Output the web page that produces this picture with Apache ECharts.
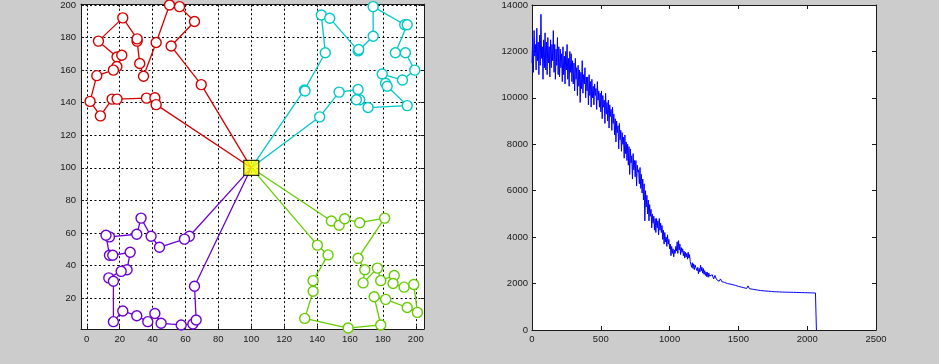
<!DOCTYPE html>
<html><head><meta charset="utf-8">
<script src="https://cdn.jsdelivr.net/npm/echarts@6/dist/echarts.min.js"></script>
<style>html,body{margin:0;padding:0;background:#cccccc;overflow:hidden}#c{width:939px;height:364px}</style>
</head><body><div id="c"></div>
<script>
// ---------- data ----------
const depot = [100, 100];
const redRoute = [[69.6,151.1],[51.3,174.8],[65.5,189.9],[56.4,199.0],[50.3,200.0],[42.2,177.0],[34.5,156.2],[32.2,164.1],[30.6,177.8],[30.6,179.2],[21.9,192.1],[7.1,177.8],[18.4,168.1],[21.3,169.1],[18.3,162.2],[16.2,160.0],[6.1,156.6],[2.0,140.8],[8.3,131.9],[15.4,142.2],[18.4,142.2],[36.3,142.8],[41.4,143.0],[42.2,138.8]];
const cyanRoute = [[132.3,147.8],[132.7,147.2],[145.0,170.7],[142.6,193.9],[147.7,191.9],[165.0,171.8],[165.3,172.7],[174.1,180.8],[174.1,199.0],[193.3,187.9],[194.8,187.9],[187.6,170.7],[193.7,170.7],[199.4,160.0],[191.9,153.9],[179.6,157.6],[181.6,151.9],[182.6,150.1],[194.8,138.2],[171.0,137.0],[165.9,141.8],[163.9,141.8],[164.9,148.1],[153.4,146.5],[141.6,131.3]];
const greenRoute = [[148.7,67.3],[153.4,64.7],[156.8,68.7],[165.9,66.3],[181.1,69.1],[164.9,44.5],[169.0,37.4],[168.0,29.3],[176.7,38.4],[178.7,30.7],[186.9,33.9],[186.2,28.9],[192.9,26.7],[198.8,28.3],[201.0,11.2],[194.8,14.2],[181.7,19.2],[174.7,20.8],[178.7,3.5],[158.9,1.6],[132.5,7.5],[137.6,24.2],[137.6,30.7],[146.7,46.5],[140.2,52.5]];
const purpleRoute = [[62.4,58.0],[59.4,56.2],[44.2,51.2],[39.1,58.0],[33.0,69.1],[30.4,59.2],[13.8,57.6],[11.7,58.6],[13.8,46.3],[15.8,46.3],[26.4,48.1],[24.5,37.4],[20.9,36.4],[13.4,32.4],[16.2,30.3],[16.2,5.5],[21.9,12.1],[30.4,9.1],[37.1,5.5],[41.4,10.5],[45.2,4.5],[57.4,3.5],[64.5,4.1],[66.5,6.5],[65.5,27.3]];

const leftXTicks = [0,20,40,60,80,100,120,140,160,180,200];
const leftYTicks = [20,40,60,80,100,120,140,160,180,200];

// convergence curve: noisy part read every 5 iterations (0..1295)
const noisyStep = 5;
const noisyValues = [
11500,12600,11100,12900,11800,12300,11200,13000,11600,12400,
11000,12700,11400,13600,11700,12200,10800,12500,11300,12800,
11200,12400,11000,12600,11500,12200,10900,12500,11300,12300,
11600,12900,11100,12300,10800,12100,11400,12600,11000,12200,
10900,12100,11300,11900,10700,12200,11000,11800,10600,12000,
11200,12300,10800,11700,10500,12000,11100,11900,10700,11600,
10600,11500,10300,11700,10800,11300,10100,11400,10500,11200,
9800,11100,10400,11600,10200,11000,10600,11300,10000,10900,
10300,10900,9700,11000,10100,10700,9600,10800,10000,10500,
9700,10600,10100,10400,9500,10700,9900,10300,9600,10200,
9400,10300,9100,10100,9600,9900,8900,10200,9300,9800,
9000,9900,8700,9700,9200,9500,8600,9600,8900,9300,
8400,9100,8100,9000,8500,8800,7800,8900,8200,8600,
7700,8500,8000,8300,7400,8400,7600,8100,7300,8000,
7100,7900,6700,7800,7200,7500,6500,7600,6900,7300,
6600,7300,6200,7100,6800,6900,6300,7000,6100,6700,
5900,6500,5600,6300,4700,6000,5300,5800,5000,5600,
4700,5400,4900,5200,4400,5000,4600,4900,4300,4800,
4200,4800,4400,4700,4100,4800,4300,4600,4200,4500,
3900,4300,3700,4200,3800,4000,3600,4100,3700,3900,
3500,3700,3200,3600,3300,3500,3150,3450,3300,3600,
3400,3800,3300,3850,3450,3700,3250,3550,3350,3500,
3200,3400,3100,3350,3150,3300,3050,3350,3100,3250,
2950,3000,2700,2900,2650,2850,2600,2800,2700,2750,
2550,2700,2420,2650,2500,2800,2550,2700,2450,2650,
2400,2560,2350,2500,2300,2480,2270,2450,2320,2400];
// calmer tail read every 10 iterations (1300..2060)
const tailStart = 1300, tailStep = 10;
const tailValues = [
2250,2380,2200,2350,2180,2260,2100,2200,2080,2150,
2050,2120,2000,2080,1980,2030,1950,2000,1920,1960,
1880,1930,1850,1900,1820,1860,1790,1900,1780,1800,
1760,1780,1740,1750,1720,1730,1700,1710,1690,1700,
1680,1690,1670,1675,1660,1665,1650,1660,1645,1650,
1640,1645,1635,1640,1630,1635,1628,1630,1625,1628,
1622,1625,1620,1618,1615,1620,1612,1610,1608,1610,
1605,1606,1602,1600,1598,1597,1595];
const finalIter = 2067, finalValue = 1593, dropValue = 0;

// ---------- chart ----------
const chart = echarts.init(document.getElementById('c'));
const FONT = 'Liberation Sans, Arial, sans-serif';
const plain = v => String(v);
const lbl = {color:'#1a1a1a', fontSize:9.5, fontFamily:FONT, formatter:plain};
const frame = {show:true, onZero:false, lineStyle:{color:'#1a1a1a', width:1}};
const tickIn = (len, custom) => Object.assign({show:true, inside:true, length:len, lineStyle:{color:'#1a1a1a'}}, custom ? {customValues:custom} : {});
const dotted = {show:true, lineStyle:{color:'#000', width:1, type:[2,2.5]}};

function routeSeries(route, color) {
  const data = [{value:depot, symbol:'none'}].concat(route.map(p => ({value:p}))).concat([{value:depot, symbol:'none'}]);
  return {type:'line', xAxisIndex:0, yAxisIndex:0, data, symbol:'circle', symbolSize:10,
    showSymbol:true, showAllSymbol:true, itemStyle:{color:'#fff', borderColor:color, borderWidth:1.4},
    lineStyle:{color, width:1.3}, z:3};
}

const costData = noisyValues.map((v,i) => [i*noisyStep, v])
  .concat(tailValues.map((v,i) => [tailStart + i*tailStep, v]));
costData.push([finalIter, finalValue], [finalIter, dropValue]);

chart.setOption({
  backgroundColor:'#cccccc',
  animation:false,
  grid:[
    {left:81, right:515, top:2, bottom:35, show:true, backgroundColor:'#fff', borderWidth:0},
    {left:532, right:63, top:2, bottom:34, show:true, backgroundColor:'#fff', borderWidth:0}
  ],
  xAxis:[
    {gridIndex:0, type:'value', min:-3.5, max:205, position:'bottom', axisLine:frame,
     axisTick:tickIn(3, leftXTicks), axisLabel:Object.assign({customValues:leftXTicks, margin:5}, lbl), splitLine:dotted},
    {gridIndex:0, type:'value', min:-3.5, max:205, position:'top', axisLine:frame,
     axisTick:tickIn(3, leftXTicks), axisLabel:{show:false}, splitLine:{show:false}},
    {gridIndex:1, type:'value', min:0, max:2500, interval:500, position:'bottom', axisLine:frame,
     axisTick:tickIn(4), axisLabel:Object.assign({margin:4}, lbl), splitLine:{show:false}},
    {gridIndex:1, type:'value', min:0, max:2500, interval:500, position:'top', axisLine:frame,
     axisTick:tickIn(4), axisLabel:{show:false}, splitLine:{show:false}}
  ],
  yAxis:[
    {gridIndex:0, type:'value', min:1, max:200.5, position:'left', axisLine:frame,
     axisTick:tickIn(3, leftYTicks), axisLabel:Object.assign({customValues:leftYTicks, margin:5}, lbl), splitLine:dotted},
    {gridIndex:0, type:'value', min:1, max:200.5, position:'right', axisLine:frame,
     axisTick:tickIn(3, leftYTicks), axisLabel:{show:false}, splitLine:{show:false}},
    {gridIndex:1, type:'value', min:0, max:14000, interval:2000, position:'left', axisLine:frame,
     axisTick:tickIn(4), axisLabel:Object.assign({margin:4}, lbl), splitLine:{show:false}},
    {gridIndex:1, type:'value', min:0, max:14000, interval:2000, position:'right', axisLine:frame,
     axisTick:tickIn(4), axisLabel:{show:false}, splitLine:{show:false}}
  ],
  series:[
    routeSeries(redRoute, '#d40000'),
    routeSeries(cyanRoute, '#00c8c8'),
    routeSeries(greenRoute, '#66cc00'),
    routeSeries(purpleRoute, '#6c00d4'),
    {type:'scatter', xAxisIndex:0, yAxisIndex:0, data:[depot], symbol:'rect', symbolSize:15,
     itemStyle:{color:'#ffff00', borderColor:'#000', borderWidth:1.2}, z:10},
    {type:'line', xAxisIndex:2, yAxisIndex:2, data:costData, showSymbol:false, symbol:'none',
     sampling:null, lineStyle:{color:'#0000ff', width:1}, z:3}
  ]
});
</script>
</body></html>
